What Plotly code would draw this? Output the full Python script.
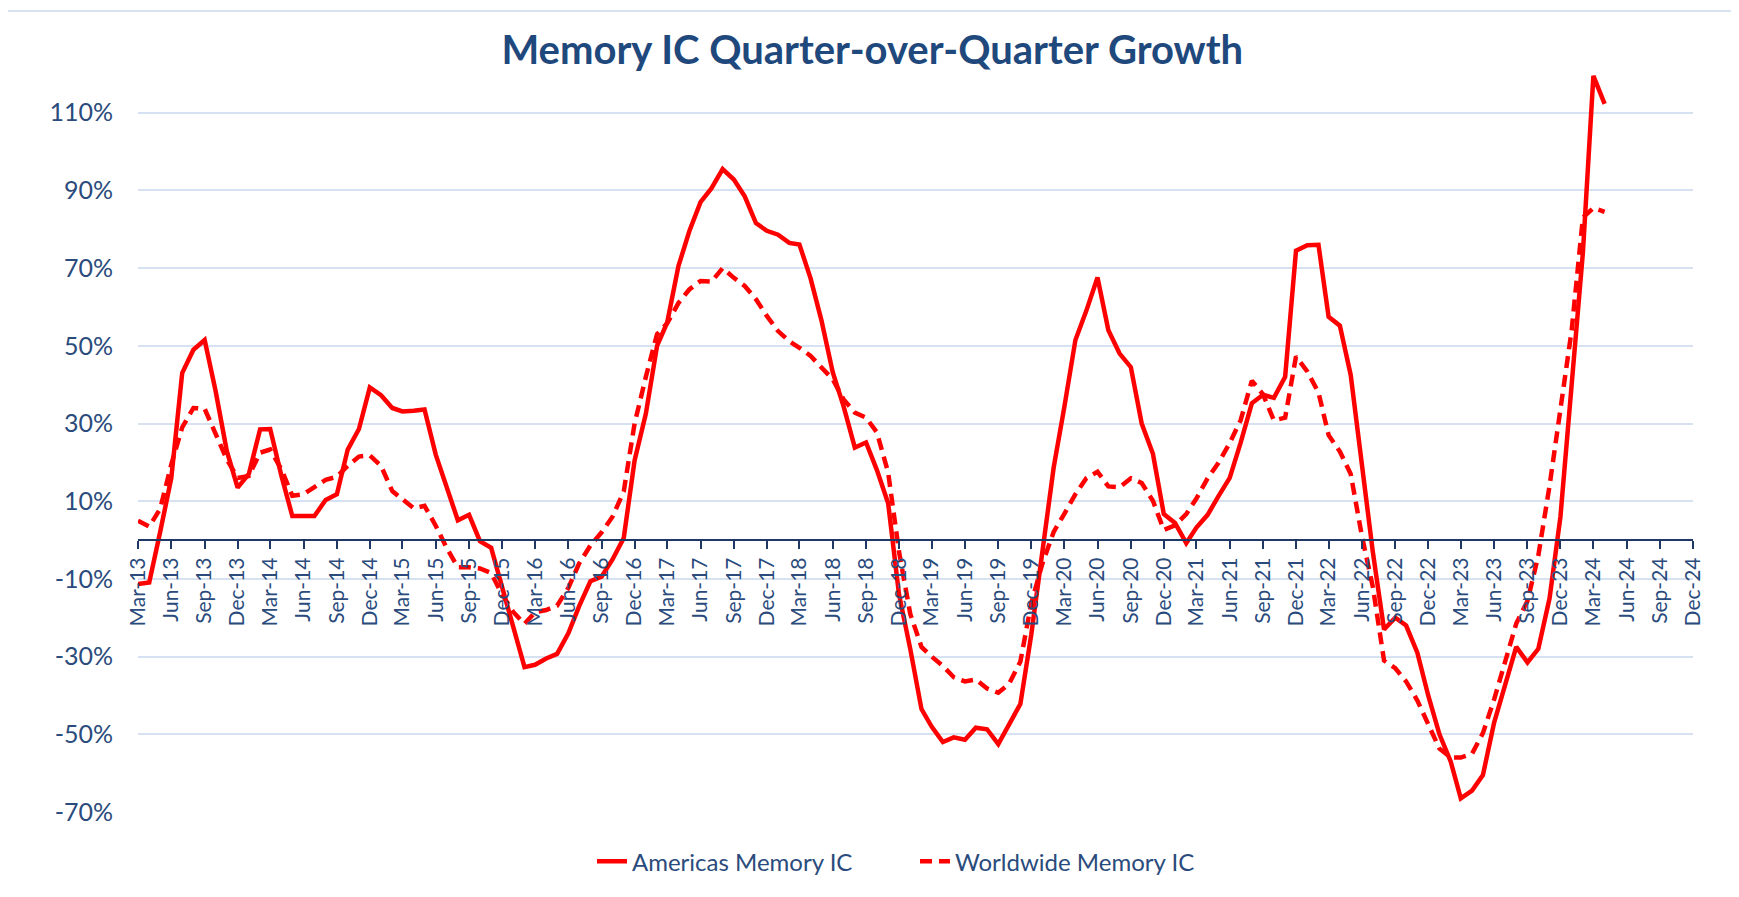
import plotly.graph_objects as go
import pandas as pd

# Monthly data, Mar-2013 .. Apr-2024
months = pd.date_range("2013-03-01", "2024-04-01", freq="MS").strftime("%Y-%m-%d").tolist()

americas = [
    -11.3, -10.9, 2, 16, 43, 49, 51.5, 38.5, 23, 13.5,
    17, 28.5, 28.6, 16.5, 6.2, 6.2, 6.2, 10.3, 11.8, 23.3,
    28.6, 39.3, 37.3, 34.0, 33.1, 33.3, 33.6, 22, 13.5, 5.1,
    6.5, -0.3, -2, -12, -22, -32.7, -32.1, -30.5, -29.3, -24,
    -17, -10.6, -9.4, -5, 0.5, 20.5, 32.5, 50, 56, 70.5,
    79.5, 87, 90.5, 95.5, 92.8, 88.5, 81.6, 79.6, 78.6, 76.5,
    76.1, 67.3, 56.5, 43.2, 34.4, 23.8, 25.1, 18, 9.5, -14,
    -28, -43.5, -48, -52, -50.8, -51.4, -48.3, -48.7, -52.5, -47.4,
    -42.2, -24.4, -3, 18.7, 34, 51.5, 59, 67.6, 54, 48,
    44.5, 30, 22.2, 6.7, 4.4, -0.8, 3.2, 6.5, 11.3, 16,
    25, 35.2, 37.4, 36.6, 42, 74.5, 75.9, 76, 57.5, 55.2,
    42.5, 20, -3, -23, -20, -22, -29, -40, -50, -57,
    -66.5, -64.5, -60.5, -47, -37, -27.5, -31.5, -28, -15, 6,
    40, 74, 119.5, 112.3,
]

worldwide = [
    5.0, 3.5, 8, 19.5, 29, 34, 33.8, 27.6, 20.8, 16,
    16.5, 22.5, 23.3, 18.2, 11.4, 11.8, 13.5, 15.5, 16.3, 19.1,
    21.5, 21.8, 19.1, 12.6, 10.5, 8.2, 8.8, 3.7, -2, -7,
    -7, -7.3, -8.5, -14, -18.5, -21.6, -18.6, -18, -16.9, -12.3,
    -6, -1.4, 2, 6, 12.5, 30, 42, 53, 55.8, 61,
    64.5, 66.7, 66.5, 70, 67.5, 65.4, 62, 57.7, 53.8, 51.2,
    49.5, 47.4, 44.4, 41.4, 36.2, 32.8, 31.5, 27.7, 17.4, -3,
    -19, -27.5, -30, -32.4, -35.3, -36.4, -35.9, -38.2, -39.3, -37,
    -31.3, -16.3, -6, 2.1, 6.7, 11.8, 15.9, 17.6, 13.8, 13.6,
    15.9, 14.7, 10.1, 2.6, 3.8, 6.7, 10.7, 15.9, 19.9, 25,
    30.8, 41, 37.5, 30.8, 31.5, 47.3, 43.4, 38, 27, 22.8,
    17, 1, -12, -31, -33, -36.4, -41.3, -47.4, -53.7, -56,
    -56, -55, -49.7, -41, -31.3, -21.5, -15.7, -4, 14, 34,
    54, 83, 85.5, 84.5,
]

y_ticks = [-70, -50, -30, -10, 10, 30, 50, 70, 90, 110]
y_labels = [f"{v}%" for v in y_ticks]
y_min, y_max = -70, 121
x_start, x_end = "2013-03-01", "2024-12-01"

TXT = "#2A4B7C"
TITLE = "#1F497D"
FONT = "Lato, 'Open Sans', sans-serif"

L, R, T, B = 130, 54, 62, 93
W, H = 1739, 897
PW, PH = W - L - R, H - T - B

fig = go.Figure()
fig.add_trace(go.Scatter(
    x=months, y=americas, mode="lines", name="Americas Memory IC",
    line=dict(color="#FF0000", width=4.5),
))
fig.add_trace(go.Scatter(
    x=months, y=worldwide, mode="lines", name="Worldwide Memory IC",
    line=dict(color="#FF0000", width=4.5, dash="12px,7px"),
))

fig.update_layout(
    width=W, height=H,
    paper_bgcolor="white", plot_bgcolor="white",
    margin=dict(l=L, r=R, t=T, b=B, autoexpand=False),
    font=dict(family=FONT, color=TXT, size=21),
    title=dict(
        text="<b>Memory IC Quarter-over-Quarter Growth</b>",
        x=0.497, xref="container", xanchor="center",
        y=1 - 42 / 897, yref="container", yanchor="middle",
        font=dict(family=FONT, size=40, color=TITLE),
    ),
    showlegend=True,
    legend=dict(
        orientation="h", x=(584 - L) / PW, xanchor="left", y=-0.067, yanchor="middle",
        font=dict(family=FONT, size=24, color=TXT),
        entrywidth=278, entrywidthmode="pixels",
        bgcolor="rgba(0,0,0,0)",
    ),
    xaxis=dict(
        type="date", range=[x_start, x_end],
        tick0="2013-03-01", dtick="M3", tickformat="%b-%y",
        tickangle=-90, ticks="outside", ticklen=8, tickwidth=2, tickcolor="#1F3864",
        showline=True, linecolor="#1F3864", linewidth=2,
        showgrid=False, zeroline=False,
        anchor="free", position=(0 - y_min) / (y_max - y_min),
        tickfont=dict(family=FONT, size=21, color=TXT),
    ),
    yaxis=dict(
        range=[y_min, y_max], tickvals=y_ticks, ticktext=y_labels,
        showgrid=True, gridcolor="#D6E1F1", gridwidth=1.5,
        zeroline=False, showline=False, ticks="",
        ticklabelstandoff=24,
        tickfont=dict(family=FONT, size=25, color=TXT),
    ),
)

# light chart-area border at top and right
fig.add_shape(type="line", xref="paper", yref="paper",
              x0=(0 - L) / PW, x1=(1737 - L) / PW,
              y0=(H - B - 3) / PH, y1=(H - B - 3) / PH,
              line=dict(color="#D6E1F1", width=2))
fig.add_shape(type="line", xref="paper", yref="paper",
              x0=(1737 - L) / PW, x1=(1737 - L) / PW,
              y0=(H - B - 3) / PH, y1=(H - B - H) / PH,
              line=dict(color="#D6E1F1", width=2))

fig.write_html("out.html")
